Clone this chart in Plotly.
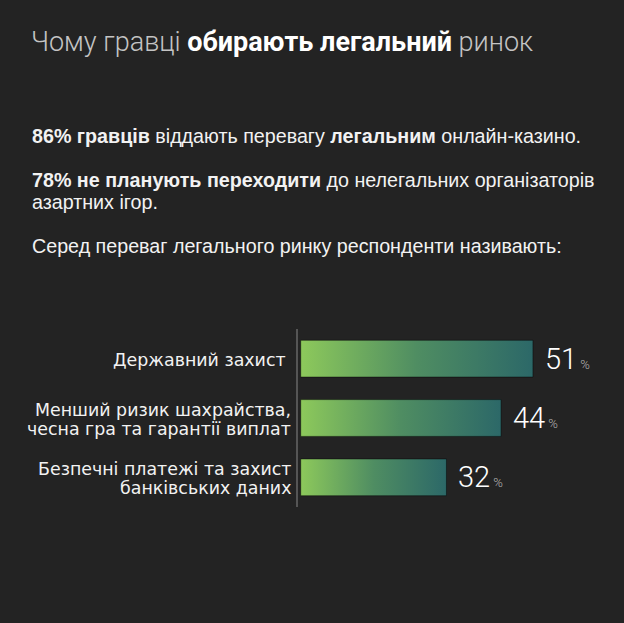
import plotly.graph_objects as go

# дані
categories = [
    "Державний захист\u00a0",
    "Менший ризик шахрайства,<br>чесна гра та гарантії виплат",
    "Безпечні платежі та захист<br>банківських даних",
]
values = [51, 44, 32]

BG = "#232323"
grad = [[0, "#8dc95b"], [0.5, "#4f8d62"], [1, "#2c6868"]]
half = 0.31
LINE_H = 19  # міжрядковий інтервал підписів, px

fig = go.Figure()

# смуги з градієнтом
for i, (cat, v) in enumerate(zip(categories, values)):
    fig.add_trace(
        go.Scatter(
            x=[0, v, v, 0, 0],
            y=[i - half, i - half, i + half, i + half, i - half],
            mode="lines",
            fill="toself",
            fillgradient=dict(type="horizontal", colorscale=grad),
            line=dict(color="rgba(0,0,0,0.45)", width=1),
            hoverinfo="skip",
            showlegend=False,
        )
    )
    # підпис категорії (кожен рядок окремо, щоб стиснути інтервал)
    lines = cat.split("<br>")
    mid = (len(lines) - 1) / 2
    for k, ln in enumerate(lines):
        fig.add_annotation(
            x=293 / 624, xref="paper", y=i, yref="y",
            text=ln, showarrow=False, xanchor="right", yanchor="middle",
            yshift=(mid - k) * LINE_H - 1,
            font=dict(family="DejaVu Sans", size=17.4, color="#f2f2f2"),
        )
    # значення
    fig.add_annotation(
        x=v, xref="x", y=i, yref="y",
        text=f"{v}<span style='font-size:13px;color:#b5b5b5'> %</span>",
        showarrow=False, xanchor="left", yanchor="middle", xshift=10,
        font=dict(family="Roboto", weight=300, size=29, color="#ffffff"),
    )

# заголовок
fig.add_annotation(
    x=29 / 624, xref="paper", y=1 - 42 / 623, yref="paper",
    text="Чому гравці <b style='color:#ffffff'>обирають легальний</b> ринок",
    showarrow=False, xanchor="left", yanchor="middle",
    font=dict(family="Roboto", weight=300, size=27, color="#c4c4c4"),
)

# текстові блоки
paras = [
    (136, "<b>86% гравців</b> віддають перевагу <b>легальним</b> онлайн-казино."),
    (180, "<b>78% не планують переходити</b> до нелегальних організаторів"),
    (202, "азартних ігор."),
    (246, "Серед переваг легального ринку респонденти називають:"),
]
for ypx, t in paras:
    fig.add_annotation(
        x=30 / 624, xref="paper", y=1 - ypx / 623, yref="paper",
        text=t, showarrow=False, xanchor="left", yanchor="middle",
        font=dict(family="Liberation Sans", size=19.7, color="#f2f2f2"),
    )

fig.update_layout(
    width=624,
    height=623,
    margin=dict(l=0, r=0, t=0, b=0),
    paper_bgcolor=BG,
    plot_bgcolor=BG,
    xaxis=dict(
        domain=[298 / 624, 1], range=[-0.6, 71],
        visible=False, fixedrange=True,
    ),
    yaxis=dict(
        domain=[1 - 507 / 623, 1 - 329 / 623], range=[2.5, -0.5],
        showticklabels=False, showgrid=False, zeroline=False,
        showline=True, linecolor="#555555", linewidth=2, fixedrange=True,
    ),
)

fig.write_html(
    "out.html",
    config={"displayModeBar": False},
    post_script="document.body.style.margin='0px';document.body.style.overflow='hidden';",
)
